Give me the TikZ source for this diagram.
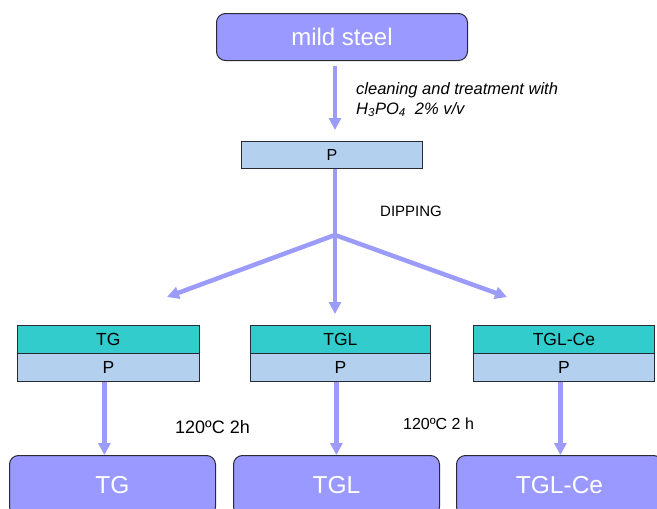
\documentclass[tikz,border=0pt]{standalone}
\usepackage{fontspec}
\setmainfont{Liberation Sans}
\usetikzlibrary{arrows.meta}
\definecolor{purp}{HTML}{9999FF}
\definecolor{arr}{HTML}{9B9BFA}
\definecolor{tealc}{HTML}{33CCCC}
\definecolor{lblue}{HTML}{B3D0EE}
\definecolor{edgec}{HTML}{2A2A35}
\newcommand{\fs}[1]{\fontsize{#1}{#1}\selectfont}
\begin{document}
\begin{tikzpicture}[x=1pt,y=-1pt,
  bigbox/.style={draw=edgec, line width=1pt, fill=purp, rounded corners=9pt, text=white,
     inner sep=0pt, anchor=north west, minimum height=60pt, minimum width=206pt, font=\fs{24.5}},
  pbox/.style={draw=edgec, line width=0.8pt, fill=lblue, inner sep=0pt, anchor=north west,
     minimum height=28pt, font=\fs{17.5}},
  tbox/.style={pbox, fill=tealc},
  flow/.style={draw=arr, line width=4.5pt, -{Triangle[width=12pt,length=12pt]}},
  flowline/.style={draw=arr, line width=4.5pt},
  lbl/.style={inner sep=0pt, anchor=west, text=black}
]
\clip (0,0) rectangle (657,509);
\fill[white] (0,0) rectangle (657,509);

% top
\node[bigbox, minimum width=251pt, minimum height=47pt, font=\fs{24}] (mild) at (216,13) {mild steel};
\node[pbox, minimum width=181pt, minimum height=27pt, font=\fs{16}] (p0) at (241,141) {P};

\coordinate (a0s) at (335,66);
\coordinate (a0e) at (335,130);
\draw[flow] (a0s) -- (a0e);

\node[inner sep=0pt, anchor=north west, align=left, font=\itshape\fontsize{16.5}{20}\selectfont] (clean) at (356,82)
  {cleaning and treatment with\\H\textsubscript{3}PO\textsubscript{4}\ \ 2\% v/v};

% dipping
\coordinate (j) at (335,235);
\draw[flowline] (p0.south -| j) -- (j);
\node[lbl, font=\fs{15}] (dip) at (380,211) {DIPPING};

\coordinate (tl) at (167,297);
\coordinate (tc) at (335,314);
\coordinate (tr) at (507,297);
\draw[flow] (j) -- (tl);
\draw[flow] (j) -- (tc);
\draw[flow] (j) -- (tr);

% middle boxes
\node[tbox, minimum width=182pt] (tg) at (17,325) {TG};
\node[pbox, minimum width=182pt] (tgp) at (17,353) {P};
\node[tbox, minimum width=180pt] (tgl) at (250,325) {TGL};
\node[pbox, minimum width=180pt] (tglp) at (250,353) {P};
\node[tbox, minimum width=181pt] (tglce) at (473,325) {TGL-Ce};
\node[pbox, minimum width=181pt] (tglcep) at (473,353) {P};

% bottom boxes
\node[bigbox] (tgb) at (9,455) {TG};
\node[bigbox] (tglb) at (233,455) {TGL};
\node[bigbox] (tglceb) at (456,455) {TGL-Ce};

% vertical arrows
\draw[flow] ([xshift=-4pt]tgp.south) -- ([xshift=-4pt]tgp.south |- tgb.north);
\draw[flow] ([xshift=-4pt]tglp.south) -- ([xshift=-4pt]tglp.south |- tglb.north);
\draw[flow] ([xshift=-3.5pt]tglcep.south) -- ([xshift=-3.5pt]tglcep.south |- tglceb.north);

\node[lbl, font=\fs{18}] (t1) at (175,427) {120ºC 2h};
\node[lbl, font=\fs{16}] (t2) at (403,424) {120ºC 2 h};
\end{tikzpicture}
\end{document}
